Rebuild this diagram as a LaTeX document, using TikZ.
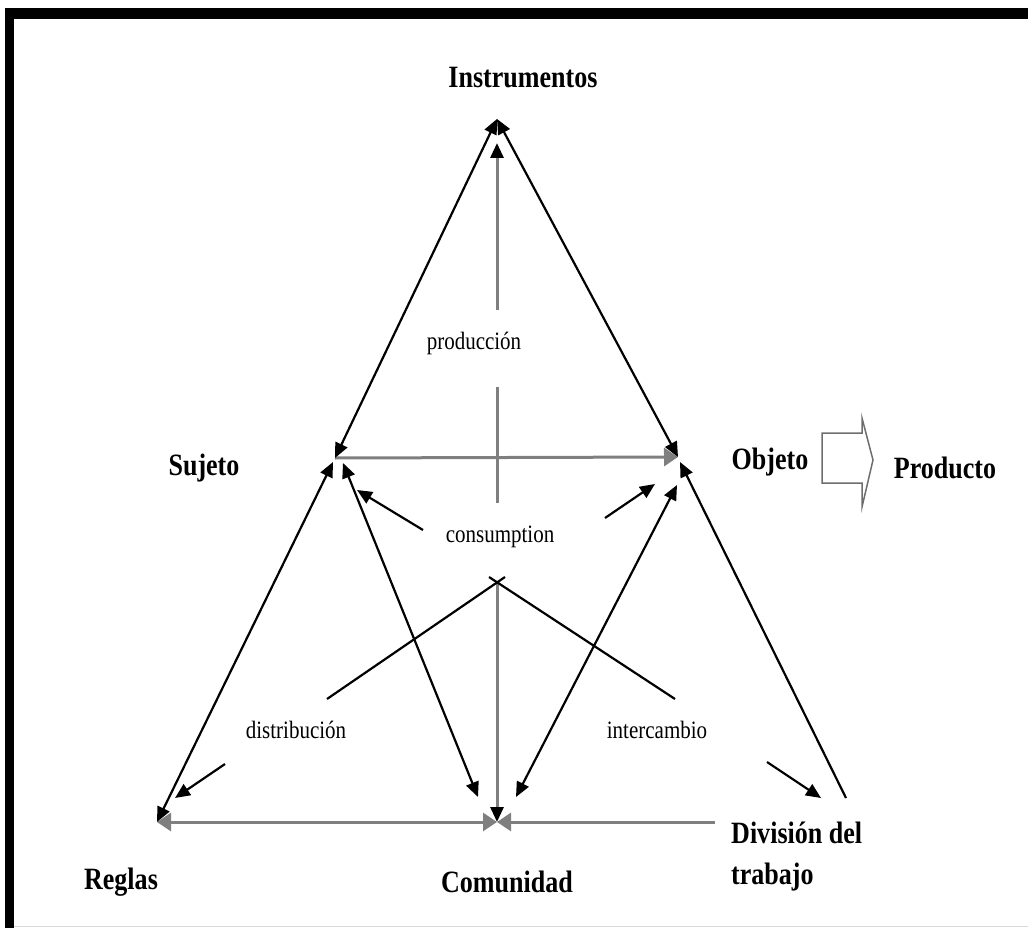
\documentclass[tikz,border=0pt]{standalone}
\usepackage{fontspec}
\setmainfont{Liberation Serif}
\newfontfamily\lblfont[FakeStretch=0.84]{Liberation Serif}
\usetikzlibrary{arrows.meta}
\definecolor{linegray}{HTML}{7F7F7F}
\definecolor{boxgray}{HTML}{6E6E6E}
\begin{document}
\begin{tikzpicture}[x=1pt,y=-1pt,
  main/.style={font=\lblfont\fontsize{31}{41}\selectfont\bfseries, inner sep=0pt},
  small/.style={font=\lblfont\fontsize{25}{28}\selectfont, inner sep=0pt},
  blk/.style={draw=black, line width=2.2pt},
  gry/.style={draw=linegray, line width=3pt},
  bt/.tip={Triangle[length=15pt,width=13pt]},
  kt/.tip={Triangle[length=15pt,width=13pt,color=black]},
  gt/.tip={Triangle[length=14pt,width=18pt]}]
\useasboundingbox (0,0) rectangle (1028,928);

% frame
\fill[black] (5,8) rectangle (1028,19);
\fill[black] (5,8) rectangle (14,928);
\draw[line width=1pt, black!15] (14,926) -- (1028,926);

% labels
\node[main] (instr) at (523,78) {Instrumentos};
\node[main] (suj) at (204,468) {Sujeto};
\node[main] (obj) at (770,462) {Objeto};
\node[main] (prod) at (945,468) {Producto};
\node[main] (reg) at (121,882) {Reglas};
\node[main] (com) at (507,882) {Comunidad};
\node[main, anchor=west, align=left] (div) at (731,857) {División del\\trabajo};
\node[small] (lprod) at (474,343) {producción};
\node[small] (lcons) at (500,537) {consumption};
\node[small] (ldist) at (296,730) {distribución};
\node[small] (linter) at (657,730) {intercambio};

% vertices and line ends
\coordinate (A) at (497,119);
\coordinate (Atip) at (497,143);
\coordinate (S) at (335,458);
\coordinate (SR) at (333,462);
\coordinate (SC) at (343,463);
\coordinate (O) at (678,457);
\coordinate (OR) at (680,462);
\coordinate (OC) at (677,485);
\coordinate (R) at (157,822);
\coordinate (C) at (497,822);
\coordinate (Cl) at (478,797);
\coordinate (Cr) at (516,797);
\coordinate (D) at (846,798);
\coordinate (Dl) at (715,822);
\coordinate (pA) at (497,310);
\coordinate (pB) at (497,387);
\coordinate (pC) at (497,503);
\coordinate (cA) at (497,582);
\coordinate (vL) at (327,699);
\coordinate (vLe) at (505,577);
\coordinate (vR) at (675,699);
\coordinate (vRe) at (489,577);

% gray connectors
\draw[gry, -gt] (S) -- (O);
\draw[gry, -kt] (pA) -- (Atip);
\draw[gry] (pC) -- (pB);
\draw[gry, -kt] (cA) -- (C);
\draw[gry, gt-gt] (R) -- (C);
\draw[gry, -gt] (Dl) -- (C);

% black connectors
\draw[blk, bt-bt] (S) -- (A);
\draw[blk, bt-bt] (O) -- (A);
\draw[blk, bt-bt] (SR) -- (R);
\draw[blk, bt-bt] (SC) -- (Cl);
\draw[blk, bt-bt] (OC) -- (Cr);
\draw[blk, -bt] (D) -- (OR);
\draw[blk] (vL) -- (vLe);
\draw[blk] (vR) -- (vRe);

% short arrows beside the labels
\coordinate (k1) at (423,530); \coordinate (k1e) at (357,490);
\coordinate (k2) at (605,518); \coordinate (k2e) at (655,484);
\coordinate (k3) at (225,764); \coordinate (k3e) at (175,798);
\coordinate (k4) at (767,762); \coordinate (k4e) at (821,798);
\draw[blk, -bt] (k1) -- (k1e);
\draw[blk, -bt] (k2) -- (k2e);
\draw[blk, -bt] (k3) -- (k3e);
\draw[blk, -bt] (k4) -- (k4e);

% block arrow from Objeto to Producto
\draw[boxgray, line width=1.5pt, fill=white]
  (822,433) -- (862,433) -- (862,418) -- (873,460) -- (862,507) -- (862,483) -- (822,483) -- cycle;
\end{tikzpicture}
\end{document}
